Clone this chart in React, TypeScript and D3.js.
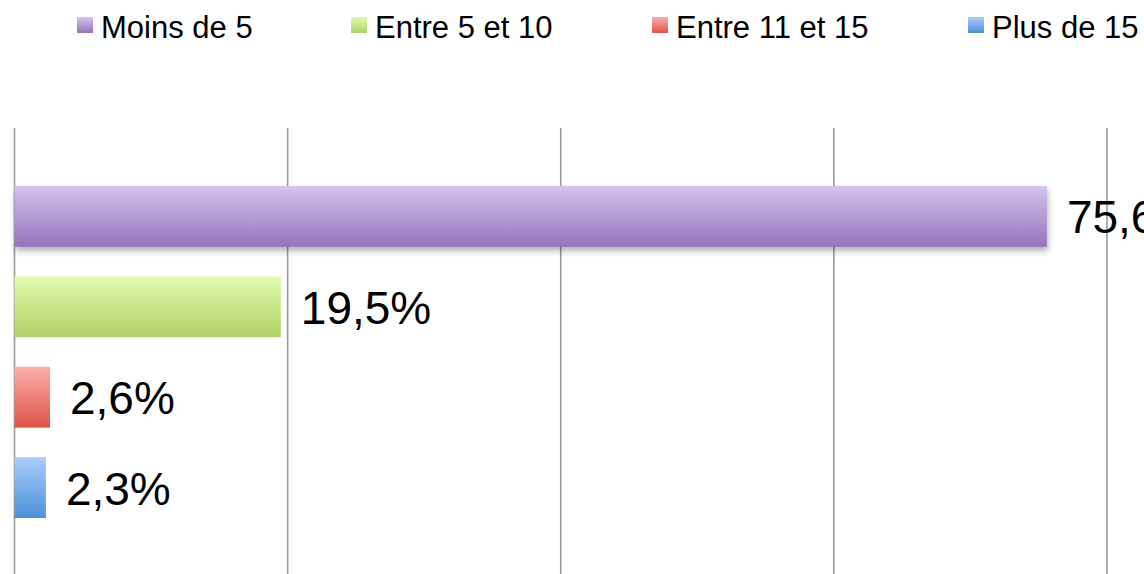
import React from "react";
import * as d3 from "d3";

const categories = ["Moins de 5", "Entre 5 et 10", "Entre 11 et 15", "Plus de 15"];
const values = [75.6, 19.5, 2.6, 2.3];
const labels = ["75,6%", "19,5%", "2,6%", "2,3%"];
const gridTicks = [0, 20, 40, 60, 80];
const gradTop = ["#d6c3f0", "#e2faae", "#fdafac", "#abcdfc"];
const gradBottom = ["#9474bb", "#afd166", "#dc5549", "#4c90d6"];
const legendTextX = [101, 375, 676, 992];

export default function App() {
  const W = 1144, H = 574;
  const x = d3.scaleLinear().domain([0, 80]).range([14.5, 1107]);
  const y = d3.scaleBand<string>().domain(categories).range([126, 578]).paddingInner(0.326).paddingOuter(0.663);
  const font = "'Liberation Sans', Arial, sans-serif";
  return (
    <svg width={W} height={H} style={{ position: "absolute", left: 0, top: 0, background: "#fff" }} fontFamily={font}>
      <defs>
        {categories.map((c, i) => (
          <linearGradient key={c} id={`g${i}`} x1="0" y1="0" x2="0" y2="1">
            <stop offset="0" stopColor={gradTop[i]} />
            <stop offset="1" stopColor={gradBottom[i]} />
          </linearGradient>
        ))}
        <filter id="sh" x="-5%" y="-20%" width="110%" height="160%">
          <feDropShadow dx="1" dy="4" stdDeviation="3" floodColor="#000" floodOpacity="0.3" />
        </filter>
      </defs>
      {categories.map((c, i) => (
        <g key={c}>
          <rect x={legendTextX[i] - 24} y={17} width={16} height={16} fill={`url(#g${i})`} />
          <text x={legendTextX[i]} y={38} fontSize={31} fill="#000">{c}</text>
        </g>
      ))}
      {gridTicks.map((t) => (
        <line key={t} x1={x(t)} x2={x(t)} y1={128} y2={H} stroke="#9a9a9a" strokeWidth={1.6} />
      ))}
      {categories.map((c, i) => (
        <g key={c}>
          <rect
            x={x(0)}
            y={y(c)!}
            width={x(values[i]) - x(0)}
            height={y.bandwidth()}
            fill={`url(#g${i})`}
            filter={i === 0 ? "url(#sh)" : undefined}
          />
          <text
            x={x(values[i]) + 20}
            y={y(c)! + y.bandwidth() / 2 + 17}
            fontSize={46}
            fill="#000"
          >
            {labels[i]}
          </text>
        </g>
      ))}
    </svg>
  );
}
